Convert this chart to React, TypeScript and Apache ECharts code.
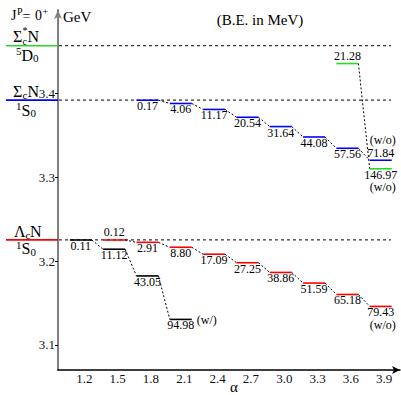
import React, { useEffect, useRef } from "react";
import * as echarts from "echarts";

const FONT = "'Liberation Serif', 'Times New Roman', serif";

// axis ticks
const alphaTicks = [1.2, 1.5, 1.8, 2.1, 2.4, 2.7, 3.0, 3.3, 3.6, 3.9];
const energyTicks = [3.1, 3.2, 3.3, 3.4];

// thresholds (GeV): ΛcN, ΣcN, Σc*N
const thresholdGeV = [3.2254, 3.3924, 3.4573];

// ΛcN bound states, with coupled channels (w/)
const blackAlpha = [1.2, 1.5, 1.8, 2.1];
const blackBE = [0.11, 11.12, 43.05, 94.98];

// ΛcN bound states, without coupled channels (w/o)
const redAlpha = [1.5, 1.8, 2.1, 2.4, 2.7, 3.0, 3.3, 3.6, 3.9];
const redBE = [0.12, 2.91, 8.8, 17.09, 27.25, 38.86, 51.59, 65.18, 79.43];

// ΣcN bound states (w/o)
const blueAlpha = [1.8, 2.1, 2.4, 2.7, 3.0, 3.3, 3.6, 3.9];
const blueBE = [0.17, 4.06, 11.17, 20.54, 31.64, 44.08, 57.56, 71.84];

// Σc*N bound states (w/o)
const greenAlpha = [3.6, 3.9];
const greenBE = [21.28, 146.97];

const X_MIN = 0.963;
const X_MAX = 4.042;
const Y_MIN = 3.07;
const Y_MAX = 3.5;

const HALF = 11;
const SHIFT = -3.5;

type Note = { index: number; text: string; place: "right" | "below" | "above" };
type LevelSpec = {
  name: string;
  color: string;
  alphas: number[];
  bes: number[];
  th: number;
  above: number[];
  note?: Note;
};

const levelSpecs: LevelSpec[] = [
  { name: "LcN w/", color: "#000000", alphas: blackAlpha, bes: blackBE, th: thresholdGeV[0], above: [], note: { index: 3, text: "(w/)", place: "right" } },
  { name: "LcN w/o", color: "#ff0000", alphas: redAlpha, bes: redBE, th: thresholdGeV[0], above: [0], note: { index: 8, text: "(w/o)", place: "below" } },
  { name: "ScN", color: "#0000ff", alphas: blueAlpha, bes: blueBE, th: thresholdGeV[1], above: [7], note: { index: 7, text: "(w/o)", place: "above" } },
  { name: "Sc*N", color: "#22dd22", alphas: greenAlpha, bes: greenBE, th: thresholdGeV[2], above: [0], note: { index: 1, text: "(w/o)", place: "below" } },
];

const thresholdColors = ["#ff0000", "#0000ff", "#22dd22"];

type Part = { t: string; x: number; dy: number; size: number };
const thresholdLabels: Part[][] = [
  [
    { t: "Λ", x: 14, dy: -8, size: 16 },
    { t: "c", x: 25.5, dy: -4.5, size: 11 },
    { t: "N", x: 30, dy: -8, size: 16 },
    { t: "1", x: 16, dy: 5, size: 11 },
    { t: "S", x: 21.5, dy: 9, size: 16 },
    { t: "0", x: 30.5, dy: 12, size: 11 },
  ],
  [
    { t: "Σ", x: 13, dy: -9, size: 16 },
    { t: "c", x: 22.5, dy: -5.5, size: 11 },
    { t: "N", x: 27.5, dy: -9, size: 16 },
    { t: "1", x: 16, dy: 6, size: 11 },
    { t: "S", x: 21.5, dy: 10, size: 16 },
    { t: "0", x: 30.5, dy: 13, size: 11 },
  ],
  [
    { t: "Σ", x: 13, dy: -9, size: 16 },
    { t: "*", x: 22.5, dy: -15, size: 10 },
    { t: "c", x: 22.5, dy: -4.5, size: 10 },
    { t: "N", x: 27.5, dy: -9, size: 16 },
    { t: "5", x: 16, dy: 5, size: 11 },
    { t: "D", x: 21.5, dy: 9.5, size: 16 },
    { t: "0", x: 33, dy: 12.5, size: 11 },
  ],
];

function txt(text: string, x: number, y: number, size: number, align = "left") {
  return {
    type: "text",
    x,
    y,
    style: {
      text,
      fontSize: size,
      fontFamily: FONT,
      fill: "#000",
      align,
      verticalAlign: "middle",
    },
  };
}

function levelSeries(spec: LevelSpec) {
  const data = spec.alphas.map((a, i) => [a, spec.th - spec.bes[i] / 1000, spec.bes[i]]);
  return {
    type: "custom",
    name: spec.name,
    coordinateSystem: "cartesian2d",
    clip: false,
    z: 5,
    data,
    encode: { x: 0, y: 1 },
    renderItem: (params: any, api: any) => {
      const i = params.dataIndex;
      const p = api.coord([api.value(0), api.value(1)]);
      const cx = p[0] + SHIFT;
      const y = p[1];
      const children: any[] = [
        {
          type: "line",
          shape: { x1: cx - HALF, y1: y, x2: cx + HALF, y2: y },
          style: { stroke: spec.color, lineWidth: 1.6 },
        },
      ];
      if (i < data.length - 1) {
        const q = api.coord([data[i + 1][0], data[i + 1][1]]);
        children.push({
          type: "line",
          shape: { x1: cx + HALF, y1: y, x2: q[0] + SHIFT - HALF, y2: q[1] },
          style: { stroke: "#000", lineWidth: 1, lineDash: [2, 2] },
        });
      }
      const above = spec.above.includes(i);
      const be = api.value(2) as number;
      children.push(txt(be.toFixed(2), cx, above ? y - 7.5 : y + 6, 12, "center"));
      if (spec.note && spec.note.index === i) {
        const n = spec.note;
        if (n.place === "right") children.push(txt(n.text, cx + HALF + 5, y + 1, 12, "left"));
        else if (n.place === "below") children.push(txt(n.text, cx + 2, y + 18.5, 12, "center"));
        else children.push(txt(n.text, cx + 2, y - 20, 12, "center"));
      }
      return { type: "group", children };
    },
  };
}

const thresholdSeries = {
  type: "custom",
  name: "thresholds",
  coordinateSystem: "cartesian2d",
  clip: false,
  z: 3,
  data: thresholdGeV.map((t) => [X_MIN, t]),
  encode: { x: 0, y: 1 },
  renderItem: (params: any, api: any) => {
    const cs = params.coordSys;
    const idx = params.dataIndex;
    const y = api.coord([api.value(0), api.value(1)])[1];
    const children: any[] = [
      {
        type: "line",
        shape: { x1: 6, y1: y, x2: cs.x, y2: y },
        style: { stroke: thresholdColors[idx], lineWidth: 1.6 },
      },
      {
        type: "line",
        shape: { x1: cs.x + 1, y1: y, x2: cs.x + cs.width - 9, y2: y },
        style: { stroke: "#000", lineWidth: 1, lineDash: [3, 3] },
      },
    ];
    thresholdLabels[idx].forEach((part) => {
      children.push(txt(part.t, part.x, y + part.dy, part.size, "left"));
    });
    return { type: "group", children };
  },
};

export default function App() {
  const ref = useRef<HTMLDivElement>(null);
  useEffect(() => {
    if (!ref.current) return;
    const chart = echarts.init(ref.current, undefined, { renderer: "svg" });
    chart.setOption({
      animation: false,
      backgroundColor: "#ffffff",
      textStyle: { fontFamily: FONT },
      grid: { left: 58, right: 1, top: 10, bottom: 25, outerBoundsMode: "none" },
      xAxis: {
        type: "value",
        min: X_MIN,
        max: X_MAX,
        splitLine: { show: false },
        axisLine: {
          show: true,
          lineStyle: { color: "#000", width: 1.5 },
          symbol: ["none", "arrow"],
          symbolSize: [6, 8],
        },
        axisTick: { show: false, customValues: alphaTicks },
        axisLabel: {
          customValues: alphaTicks,
          formatter: (v: number) => v.toFixed(1),
          fontFamily: FONT,
          fontSize: 13,
          color: "#111",
          margin: 2,
        },
      },
      yAxis: {
        type: "value",
        min: Y_MIN,
        max: Y_MAX,
        splitLine: { show: false },
        axisLine: {
          show: true,
          lineStyle: { color: "#808080", width: 2 },
          symbol: ["none", "arrow"],
          symbolSize: [6, 9],
        },
        axisTick: {
          show: true,
          customValues: energyTicks,
          length: 3,
          lineStyle: { color: "#000", width: 1 },
        },
        axisLabel: {
          customValues: energyTicks,
          formatter: (v: number) => v.toFixed(1),
          fontFamily: FONT,
          fontSize: 13,
          color: "#111",
          margin: 3,
        },
      },
      graphic: [
        txt("J", 11, 15.5, 14),
        txt("P", 17, 11.5, 10),
        txt("=", 22.5, 16, 14),
        txt("0", 35, 15.5, 14),
        txt("+", 42.5, 11.5, 10),
        txt("GeV", 63, 17, 15),
        txt("(B.E. in MeV)", 260, 20, 15, "center"),
        txt("α", 234, 387, 15, "center"),
      ],
      series: [thresholdSeries, ...levelSpecs.map(levelSeries)],
    });
    return () => chart.dispose();
  }, []);
  return (
    <div
      ref={ref}
      style={{ position: "fixed", left: 0, top: 0, width: 401, height: 395, background: "#fff" }}
    />
  );
}
